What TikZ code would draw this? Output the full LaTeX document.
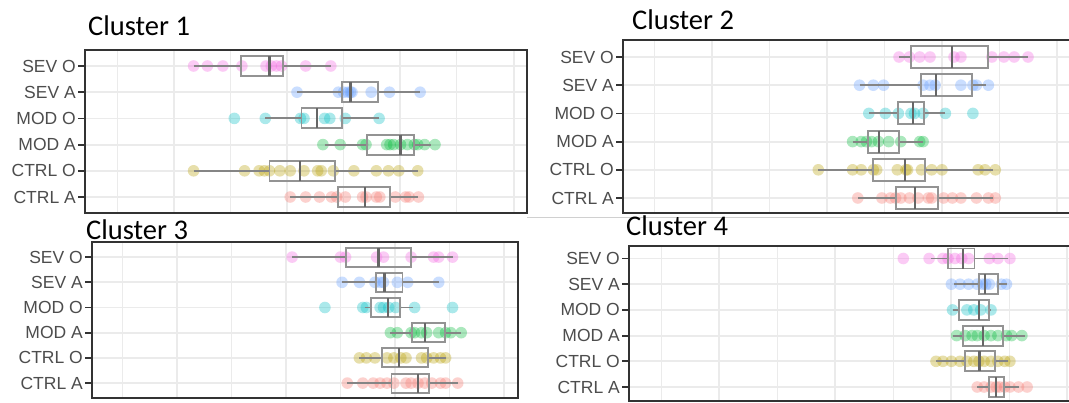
\documentclass[tikz,border=0pt]{standalone}
\usepackage{fontspec}
\setmainfont{Liberation Sans}
\newfontfamily\titlefont{Carlito}
\definecolor{cSEVO}{HTML}{F564E3}
\definecolor{cSEVA}{HTML}{619CFF}
\definecolor{cMODO}{HTML}{00BFC4}
\definecolor{cMODA}{HTML}{00BA38}
\definecolor{cCTRLO}{HTML}{B79F00}
\definecolor{cCTRLA}{HTML}{F8766D}
\definecolor{gridc}{HTML}{EBEBEB}
\definecolor{axc}{HTML}{333333}
\definecolor{labc}{HTML}{4D4D4D}
\definecolor{boxc}{HTML}{939393}
\definecolor{whc}{HTML}{858585}
\definecolor{medc}{HTML}{666666}
\definecolor{sepc}{HTML}{D0D0D0}
\tikzset{
  majgrid/.style={draw=gridc, line width=1.8pt},
  mingrid/.style={draw=gridc, line width=1pt},
  frame/.style={draw=axc, line width=1.8pt},
  ytick/.style={draw=axc, line width=1.8pt},
  ylab/.style={anchor=east, text=labc, font=\fontsize{17.5}{17.5}\selectfont, inner sep=0pt},
  ttl/.style={anchor=base west, font=\titlefont\fontsize{28.5}{30}\selectfont, inner sep=0pt},
  jdot/.style={fill opacity=0.33},
  whisk/.style={draw=whc, line width=1.9pt},
  boxs/.style={draw=boxc, line width=1.9pt},
  medl/.style={draw=medc, line width=2.3pt},
  sepline/.style={draw=sepc, line width=0.8pt}
}
% #1 name, #2 x0, #3 y0, #4 x1, #5 y1, #6 first grid x, #7 grid step, #8 first row y, #9 row step
\newcommand\panelgrid[9]{%
  \foreach \k in {0,...,7} {
    \pgfmathsetmacro\gx{#6+\k*#7}
    \ifodd\k \draw[majgrid] (\gx,#3) -- (\gx,#5); \else \draw[mingrid] (\gx,#3) -- (\gx,#5); \fi
  }
  \foreach \lab [count=\i from 0] in {SEV O,SEV A,MOD O,MOD A,CTRL O,CTRL A} {
    \pgfmathsetmacro\ry{#8+\i*#9}
    \draw[majgrid] (#2,\ry) -- (#4,\ry);
    \draw[ytick] (#2-7,\ry) -- (#2,\ry);
    \node[ylab] (#1lab\i) at (#2-9,\ry) {\lab};
  }
}
% #1 y, #2 colour, #3 whisker low, #4 q1, #5 median, #6 q3, #7 whisker high, #8 dots, #9 half box height
\newcommand\bprow[9]{%
  \foreach \d in {#8} \fill[#2, jdot] (\d,#1) circle[radius=5.8pt];
  \draw[whisk] (#3,#1) -- (#4,#1);
  \draw[whisk] (#6,#1) -- (#7,#1);
  \draw[boxs] (#4,#1-#9) rectangle (#6,#1+#9);
  \draw[medl] (#5,#1-#9) -- (#5,#1+#9);
}
\begin{document}
\begin{tikzpicture}[x=1pt,y=-1pt]
\useasboundingbox (0,0) rectangle (1069,402);
\begin{scope}
\clip (0,0) rectangle (1069,402);
\fill[white] (0,0) rectangle (1069,402);

% ---------------- Cluster 1 ----------------
\node[ttl] (t1) at (88,35) {Cluster 1};
\panelgrid{pa}{85}{50}{527}{213}{117}{56.66}{66}{26.2}
\bprow{66}{cSEVO}{193.6}{241.2}{269.5}{283.3}{330.8}{193.6,207.4,222.9,241.9,266,271.2,276.4,281.5,305.7,330.8}{10}
\bprow{92.2}{cSEVA}{297}{341.9}{350.5}{378.1}{420.1}{297,338.4,343.6,348,350.5,352,371.2,389.5,420.1}{10}
\bprow{118.4}{cMODO}{265.3}{301.5}{317}{341.9}{379.1}{234.3,265.3,300.5,304,324.6,329.8,345.3,379.1}{10}
\bprow{144.6}{cMODA}{324.6}{367}{400.5}{413.6}{431}{322.9,340.2,362.6,366,386.7,390,393.6,400.5,407.4,414.3,417.7,424.6,435}{10}
\bprow{170.8}{cCTRLO}{193.6}{269.5}{299.8}{335}{417.7}{193.6,244.6,259.1,264.3,269.5,279.8,290.2,304,317.7,321.2,333.3,353.9,376.3,388.4,398.8,417.7}{10}
\bprow{197}{cCTRLA}{290.2}{337.7}{365.3}{390.1}{418.4}{290.2,305.7,319.5,331.5,336.7,345.3,362.6,366,376.3,379.8,395.3,405.7,409.1,418.4}{10}
\draw[frame] (85,50) rectangle (527,213);

% ---------------- Cluster 2 ----------------
\node[ttl] (t2) at (632,29) {Cluster 2};
\panelgrid{pb}{623}{40}{1072}{213}{654}{57.6}{57}{28.2}
\bprow{57}{cSEVO}{899}{911}{952.3}{988.4}{1028}{899,909.4,919.7,930,954,960.9,991.9,1003.9,1014.2,1028}{11}
\bprow{85.2}{cSEVA}{859.5}{921.4}{935.8}{972}{986}{859.5,873.3,883.6,923.1,930,935.1,960.9,972.9,976.4,988.4}{11}
\bprow{113.4}{cMODO}{868.8}{898.4}{912.8}{923.8}{945.4}{868.8,885.3,898.4,911,914.5,923.1,945.4,972.9}{11}
\bprow{141.6}{cMODA}{852.6}{868.1}{879.1}{899}{923.1}{852.6,861.2,866.4,871.5,878.4,888.7,900.8,919.7,923.1}{11}
\bprow{169.8}{cCTRLO}{818.3}{873.3}{905.2}{924.8}{993.3}{818.3,852.6,861.2,873.3,876.7,897.3,905.9,907.6,921.4,931.7,942,978.1,985,995.3}{11}
\bprow{198}{cCTRLA}{857.8}{896.3}{915.2}{937.9}{993}{857.8,881.9,890.4,895.6,900.8,909.4,918,928.3,931.7,943.7,952.3,960.9,976.4,988.4,995.3}{11}
\draw[frame] (623,40) rectangle (1072,213);

% separator
\draw[sepline] (527,217) -- (1069,217);

% ---------------- Cluster 3 ----------------
\node[ttl] (t3) at (86,239) {Cluster 3};
\panelgrid{pc}{92}{242}{518}{398}{122}{54.6}{257.1}{25.2}
\bprow{257.1}{cSEVO}{292.1}{345.6}{378.4}{411.1}{452.5}{292.1,340.4,345.6,376.6,383.5,411.1,433.6,438.7,452.5}{9.5}
\bprow{282.3}{cSEVA}{342.1}{375.9}{384.6}{402.5}{438.7}{342.1,359.4,374.9,380.1,383.5,397.3,407.7,438.7}{9.5}
\bprow{307.5}{cMODO}{364.6}{370.8}{387.7}{400.1}{412.9}{324.9,362.8,366.3,380.1,383.5,388.7,395.6,414.6,452.5}{9.5}
\bprow{332.7}{cMODA}{390.4}{412.2}{424.9}{444.6}{461.2}{390.4,397.3,411.1,414.6,421.5,426.7,438.7,445.6,450.8,461.2}{9.5}
\bprow{357.9}{cCTRLO}{359.4}{381.8}{399.1}{428.4}{445.6}{359.4,366.3,374.9,387,393.9,400.8,406,421.5,426.7,433.6,440.5,445.6}{9.5}
\bprow{383.1}{cCTRLA}{347.3}{391.5}{418}{429.4}{457.7}{347.3,362.8,373.2,380.1,387,393.9,406,411.1,418,424.9,431.8,440.5,445.6,457.7}{9.5}
\draw[frame] (92,242) rectangle (518,398);

% ---------------- Cluster 4 ----------------
\node[ttl] (t4) at (626,235) {Cluster 4};
\panelgrid{pd}{629}{246}{1075}{401}{661}{58}{258.5}{25.7}
\bprow{258.5}{cSEVO}{930.8}{948}{962.8}{974.5}{1008.2}{903.3,929.1,942.9,948,954.9,961.8,968.6,989.3,997.9,1009.9}{10}
\bprow{284.2}{cSEVA}{953.9}{978.9}{984.8}{997.9}{1006.5}{951.4,960,968.6,977.2,982.4,985.8,989.3,1001.3,1006.5}{10}
\bprow{309.9}{cMODO}{952.5}{959.4}{979}{989.3}{991}{952.5,966.9,973.8,980.7,991}{10}
\bprow{335.6}{cMODA}{952.5}{962.8}{982.7}{1003}{1025.4}{956.6,965.2,972.1,977.2,984.1,991,997.9,1006.5,1011.6,1021.9}{10}
\bprow{361.3}{cCTRLO}{936}{965.2}{979.6}{995.4}{1008}{936,942.9,951.4,960,966.9,973.8,978.9,984.1,991,997.9,1004.7,1009.9}{10}
\bprow{387}{cCTRLA}{977.2}{989.3}{996.1}{1004}{1018.5}{977.2,984.1,991,996.1,999.6,1004.7,1009.9,1018.5,1027.1}{10}
\draw[frame] (629,246) rectangle (1075,401);
\end{scope}
\end{tikzpicture}
\end{document}
